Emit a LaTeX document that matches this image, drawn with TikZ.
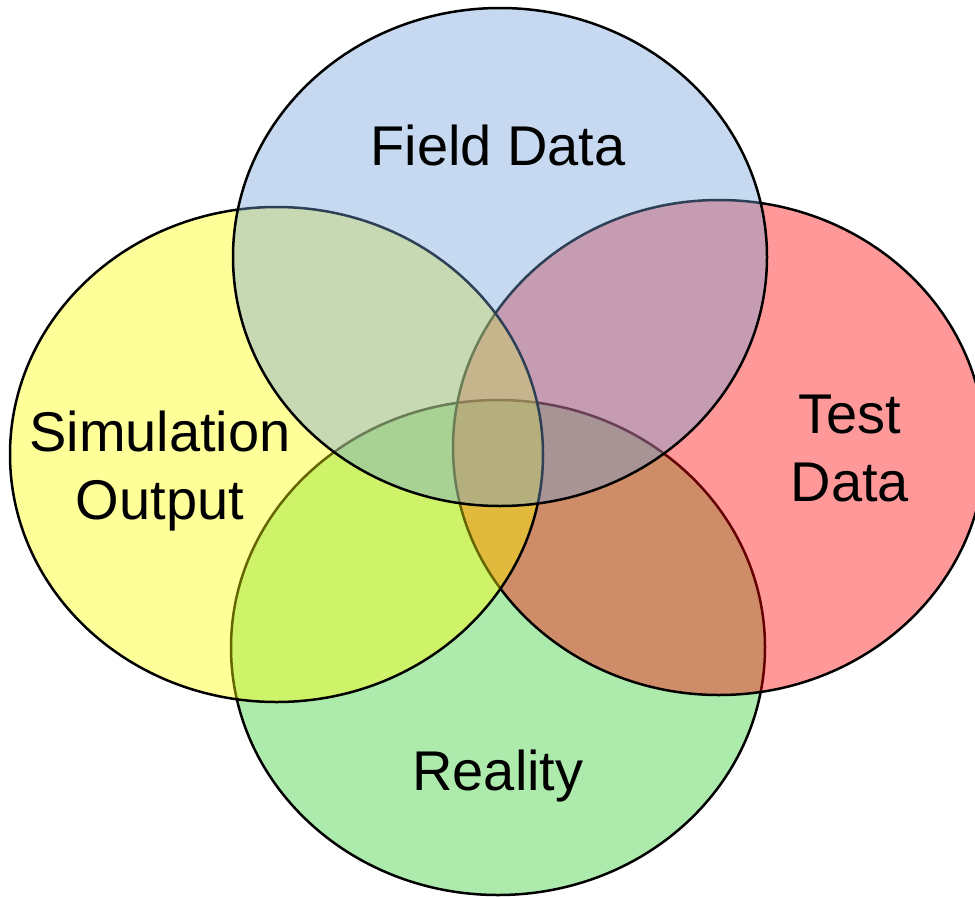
\documentclass[tikz,border=0pt]{standalone}
\usepackage{fontspec}
\setmainfont{Liberation Sans}
\definecolor{cyel}{RGB}{255,255,0}
\definecolor{cred}{RGB}{255,0,0}
\definecolor{cgrn}{RGB}{50,205,50}
\definecolor{cblu}{RGB}{113,160,217}
\begin{document}
\begin{tikzpicture}[x=1pt,y=-1pt,
  blob/.style={draw=black, line width=2.5pt, fill opacity=0.4, draw opacity=1},
  lbl/.style={font=\fontsize{56}{68}\selectfont, align=center, text=black, inner sep=0pt}]
\useasboundingbox (0,0) rectangle (975,897);
\clip (0,0) rectangle (975,897);
\coordinate (cG) at (498,647.5);
\coordinate (cR) at (719,447.5);
\coordinate (cY) at (276.5,454.5);
\coordinate (cB) at (500,257);
\path[blob, fill=cgrn] (cG) ellipse [x radius=267, y radius=247.5];
\path[blob, fill=cred] (cR) ellipse [x radius=266, y radius=247.5];
\path[blob, fill=cyel] (cY) ellipse [x radius=266.5, y radius=247.5];
\path[blob, fill=cblu] (cB) ellipse [x radius=267, y radius=249];
\node[lbl, anchor=base] (field) at (498,165) {Field Data};
\node[lbl] (sim) at (160,471) {Simulation\\Output};
\node[lbl] (test) at (850,449) {Test\\Data};
\node[lbl, anchor=base] (real) at (498,790) {Reality};
\end{tikzpicture}
\end{document}
